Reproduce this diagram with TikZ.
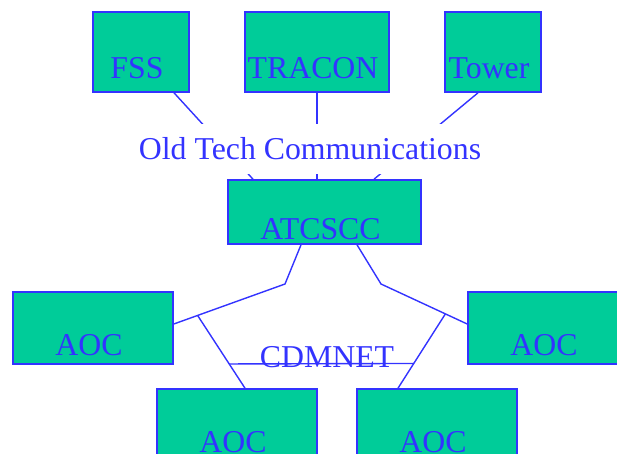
\documentclass[tikz,border=0pt]{standalone}
\usepackage{fontspec}
\setmainfont{Liberation Serif}
\usetikzlibrary{calc}
\definecolor{netgreen}{RGB}{0,204,153}
\definecolor{netblue}{RGB}{51,51,255}

\begin{document}
\begin{tikzpicture}[
  x=1pt, y=-1pt,
  facility/.style={draw=netblue, fill=netgreen, line width=1.6pt, inner sep=0pt, text height=54pt, text depth=0pt, text=netblue, font=\fontsize{31.8}{36}\selectfont, execute at end node={\ }},
  aoc/.style={facility, minimum width=160pt, minimum height=72pt},
  netlabel/.style={text=netblue, anchor=base, font=\fontsize{31.8}{36}\selectfont},
  link/.style={draw=netblue, line width=1.4pt}
]
\useasboundingbox (0,0) rectangle (617,454);

\node[facility, minimum width=96pt,  minimum height=80pt] (fss)    at (141,52)    {FSS};
\node[facility, minimum width=144pt, minimum height=80pt] (tracon) at (317,52)    {TRACON};
\node[facility, minimum width=96pt,  minimum height=80pt] (tower)  at (493,52)    {Tower};
\node[facility, minimum width=193pt, minimum height=64pt] (atcscc) at (324.5,212) {ATCSCC};

\node[aoc] (aocw)  at (93,328)  {AOC};
\node[aoc] (aoce)  at (548,328) {AOC};
\node[aoc] (aocsw) at (237,425) {AOC};
\node[aoc] (aocse) at (437,425) {AOC};

% old links into the command center
\draw[link] ([xshift=33pt]fss.south)   -- ([xshift=-71.5pt]atcscc.north);
\draw[link] (tracon.south)             -- ([xshift=-7.5pt]atcscc.north);
\draw[link] ([xshift=-15pt]tower.south) -- ([xshift=49.5pt]atcscc.north);
\node[netlabel, fill=white, inner xsep=2pt, inner ysep=14pt, text height=22pt, text depth=0pt] (oldtech) at (310,160) {Old Tech Communications};

% CDMNET ring
\coordinate (wbend) at (285,284);
\coordinate (ebend) at (381,284);
\draw[link] ([xshift=-23.5pt]atcscc.south) -- (wbend) -- ([yshift=4pt]aocw.east);
\draw[link] ([xshift=32.5pt]atcscc.south)  -- (ebend) -- ([yshift=4pt]aoce.west);
\coordinate (wtap) at ($(wbend)!0.786!([yshift=4pt]aocw.east)$);
\coordinate (etap) at ($(ebend)!0.747!([yshift=4pt]aoce.west)$);
\draw[link] (wtap) -- coordinate[pos=0.667] (wring) ([xshift=8pt]aocsw.north);
\draw[link] (etap) -- coordinate[pos=0.667] (ering) ([xshift=-39pt]aocse.north);
\draw[link] (wring) -- (ering);
\node[netlabel] (cdmnet) at (327,367) {CDMNET};

\end{tikzpicture}
\end{document}
